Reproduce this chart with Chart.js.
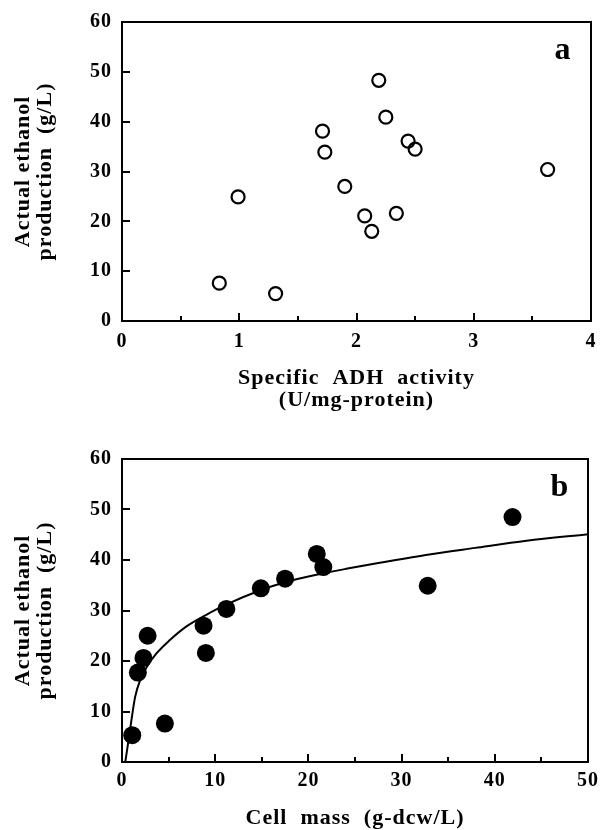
<!DOCTYPE html>
<html>
<head>
<meta charset="utf-8">
<script src="https://cdn.jsdelivr.net/npm/chart.js@4.4.1/dist/chart.umd.min.js"></script>
<style>
  html, body { margin: 0; padding: 0; background: #fff; }
  .panel { position: relative; width: 605px; height: 415px; }
</style>
</head>
<body>
<div class="panel"><canvas id="chartA" width="605" height="415"></canvas></div>
<div class="panel"><canvas id="chartB" width="605" height="415"></canvas></div>
<script>
// panel a: specific ADH activity vs ethanol
const adhX = [0.83, 0.99, 1.31, 1.71, 1.73, 1.90, 2.07, 2.13, 2.19, 2.25, 2.34, 2.44, 2.50, 3.63];
const adhY = [7.6, 24.9, 5.5, 38.1, 33.9, 27.0, 21.1, 18.0, 48.3, 40.9, 21.6, 36.1, 34.5, 30.4];

// panel b: cell mass vs ethanol
const cellX = [1.1, 1.7, 2.3, 2.75, 4.6, 8.75, 9.0, 11.2, 14.9, 17.5, 20.9, 21.6, 32.8, 41.9];
const cellY = [5.3, 17.7, 20.6, 25.0, 7.6, 27.0, 21.6, 30.3, 34.4, 36.3, 41.2, 38.6, 34.9, 48.5];

// fitted curve in panel b
const fitX = [0.35, 0.70, 1.06, 1.41, 1.94, 2.65, 3.70, 5.11, 6.88, 9.0, 11.1, 15.0, 17.5, 21.7, 24.2, 26.6, 32.6, 37.9, 43.4, 50.0];
const fitY = [0, 4.3, 8.9, 12.9, 16.2, 18.8, 21.5, 24.1, 26.8, 29.1, 31.1, 34.1, 35.6, 37.4, 38.3, 39.1, 41.0, 42.4, 43.8, 45.1];

const yTitle = ['Actual ethanol', 'production  (g/L)'];
const xTitleA = ['Specific  ADH  activity', '(U/mg-protein)'];
const xTitleB = 'Cell  mass  (g-dcw/L)';

const serif = '"Liberation Serif", "Times New Roman", serif';
const tickFont = { family: serif, weight: 'bold', size: 20, lineHeight: 1.2 };
const titleFont = { family: serif, weight: 'bold', size: 22, lineHeight: 1 };

function toPoints(xs, ys) {
  return xs.map((x, i) => ({ x: x, y: ys[i] }));
}

// box frame, inward ticks and panel letter
const frameTicks = {
  id: 'frameTicks',
  beforeDraw(chart) {
    chart.ctx.letterSpacing = '1px';
  },
  afterDraw(chart, args, opts) {
    const ctx = chart.ctx;
    const a = chart.chartArea;
    const xs = chart.scales.x, ys = chart.scales.y;
    ctx.save();
    ctx.strokeStyle = '#000';
    ctx.lineWidth = 2;
    ctx.strokeRect(a.left, a.top, a.right - a.left, a.bottom - a.top);

    ctx.beginPath();
    for (let v = xs.min; v <= xs.max + 1e-9; v += opts.xMinor) {
      const px = Math.round(xs.getPixelForValue(v));
      const major = Math.abs(v / opts.xMajor - Math.round(v / opts.xMajor)) < 1e-6;
      ctx.moveTo(px, a.bottom);
      ctx.lineTo(px, a.bottom - (major ? 8 : 5));
    }
    for (let v = ys.min; v <= ys.max + 1e-9; v += 10) {
      const py = Math.round(ys.getPixelForValue(v));
      ctx.moveTo(a.left, py);
      ctx.lineTo(a.left + 8, py);
    }
    ctx.stroke();

    ctx.fillStyle = '#000';
    ctx.font = 'bold 32px ' + serif;
    ctx.textAlign = 'center';
    ctx.textBaseline = 'alphabetic';
    ctx.fillText(opts.letter, a.right - 28, a.top + 37);
    ctx.restore();
  }
};

function makeOptions(cfg) {
  return {
    responsive: false,
    animation: false,
    layout: { padding: { top: cfg.top, right: 13, left: 0, bottom: 0 } },
    plugins: {
      legend: { display: false },
      tooltip: { enabled: false },
      frameTicks: { letter: cfg.letter, xMajor: cfg.xStep, xMinor: cfg.xStep / 2 }
    },
    scales: {
      x: {
        type: 'linear',
        min: cfg.xMin,
        max: cfg.xMax,
        grid: { display: false, drawTicks: false },
        border: { display: false },
        ticks: { stepSize: cfg.xStep, padding: cfg.xTickPad, color: '#000', font: tickFont, maxRotation: 0 },
        title: { display: true, text: cfg.xTitle, color: '#000', font: titleFont, padding: { top: 0, bottom: cfg.xTitlePad } },
        afterFit: s => { s.height = cfg.xHeight; }
      },
      y: {
        type: 'linear',
        min: 0,
        max: 60,
        grid: { display: false, drawTicks: false },
        border: { display: false },
        ticks: { stepSize: 10, padding: 10, color: '#000', font: tickFont },
        title: { display: true, text: yTitle, color: '#000', font: titleFont, padding: { top: 12, bottom: 0 } },
        afterFit: s => { s.width = 122; }
      }
    }
  };
}

new Chart(document.getElementById('chartA'), {
  type: 'scatter',
  data: {
    datasets: [{
      data: toPoints(adhX, adhY),
      pointStyle: 'circle',
      pointRadius: 6.5,
      borderWidth: 2.2,
      borderColor: '#000',
      backgroundColor: 'rgba(0,0,0,0)'
    }]
  },
  options: makeOptions({
    top: 18, letter: 'a', xMin: 0, xMax: 4, xStep: 1, xTickPad: 9,
    xTitle: xTitleA, xTitlePad: 4, xHeight: 94
  }),
  plugins: [frameTicks]
});

new Chart(document.getElementById('chartB'), {
  type: 'scatter',
  data: {
    datasets: [{
      data: toPoints(cellX, cellY),
      pointStyle: 'circle',
      pointRadius: 9,
      borderWidth: 0,
      backgroundColor: '#000'
    }, {
      data: toPoints(fitX, fitY),
      showLine: true,
      pointRadius: 0,
      borderColor: '#000',
      borderWidth: 2,
      cubicInterpolationMode: 'monotone'
    }]
  },
  options: makeOptions({
    top: 44, letter: 'b', xMin: 0, xMax: 50, xStep: 10, xTickPad: 7,
    xTitle: xTitleB, xTitlePad: 1, xHeight: 68
  }),
  plugins: [frameTicks]
});
</script>
</body>
</html>
